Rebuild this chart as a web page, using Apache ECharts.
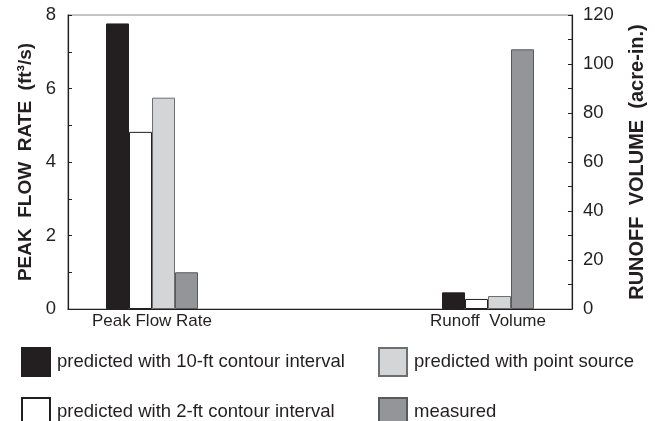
<!DOCTYPE html>
<html>
<head>
<meta charset="utf-8">
<script src="https://cdn.jsdelivr.net/npm/echarts@6/dist/echarts.min.js"></script>
<style>html,body{margin:0;padding:0;background:#fff}#c{width:655px;height:421px}</style>
</head>
<body>
<div id="c"></div>
<script>
var categories = ['Peak Flow Rate', '', 'Runoff  Volume'];
var seriesNames = ['predicted with 10-ft contour interval', 'predicted with 2-ft contour interval', 'predicted with point source', 'measured'];
// Peak flow rate (ft3/s), left axis
var peakFlow = [7.77, 4.82, 5.75, 1.0];
// Runoff volume (acre-in.), right axis
var runoffVolume = [6.8, 4.1, 5.3, 106];
var leftTicks = [0, 2, 4, 6, 8];
var rightTicks = [0, 20, 40, 60, 80, 100, 120];

var fills = ['#231f20', '#ffffff', '#d4d5d7', '#939598'];
var borders = ['#231f20', '#231f20', '#6d6e70', '#58595b'];
var txt = '#231f20';
var font = 'Liberation Sans, Arial, sans-serif';

var series = [];
seriesNames.forEach(function (n, i) {
  series.push({
    name: n, type: 'bar', xAxisIndex: 0, yAxisIndex: 0,
    data: [peakFlow[i], null, null],
    barWidth: 23, barGap: '0%',
    itemStyle: { color: fills[i], borderColor: borders[i], borderWidth: 1 },
    emphasis: { disabled: true }, animation: false
  });
});
seriesNames.forEach(function (n, i) {
  series.push({
    name: n, type: 'bar', xAxisIndex: 1, yAxisIndex: 1,
    data: [null, null, runoffVolume[i]],
    barWidth: 23, barGap: '0%',
    itemStyle: { color: fills[i], borderColor: borders[i], borderWidth: 1 },
    emphasis: { disabled: true }, animation: false
  });
});

function legendCol(names, left) {
  return { data: names, orient: 'vertical', left: left, top: 347, padding: 0, height: 90,
    itemWidth: 28, itemHeight: 28, itemGap: 20, icon: 'rect', selectedMode: false,
    textStyle: { fontSize: 18.5, color: txt, fontFamily: font, padding: [0, 0, 0, 2] } };
}

var chart = echarts.init(document.getElementById('c'), null, { renderer: 'canvas' });
chart.setOption({
  animation: false,
  grid: { left: 68, right: 82, top: 15, bottom: 112, show: true, borderColor: '#8a8a8a', borderWidth: 1.2, backgroundColor: 'transparent' },
  legend: [
    legendCol([seriesNames[0], seriesNames[1]], 21),
    legendCol([seriesNames[2], seriesNames[3]], 378)
  ],
  xAxis: [
    { type: 'category', data: categories, gridIndex: 0,
      axisLine: { lineStyle: { color: '#231f20', width: 1.2 } }, axisTick: { show: false },
      axisLabel: { color: txt, fontSize: 17, fontFamily: font, margin: 4, interval: 0 } },
    { type: 'category', data: categories, gridIndex: 0, show: false }
  ],
  yAxis: [
    { type: 'value', min: 0, max: 8, interval: 1, position: 'left',
      name: 'PEAK  FLOW  RATE  (ft³/s)', nameLocation: 'middle', nameGap: 31,
      nameTextStyle: { fontSize: 19, fontWeight: 'bold', color: txt, fontFamily: font },
      axisLine: { show: true, lineStyle: { color: '#231f20', width: 1.2 } },
      axisTick: { show: true, inside: true, length: 4, lineStyle: { color: '#231f20' } },
      axisLabel: { color: txt, fontSize: 18.5, fontFamily: font, margin: 12,
        formatter: function (v) { return leftTicks.indexOf(v) >= 0 ? String(v) : ''; } },
      splitLine: { show: false } },
    { type: 'value', min: 0, max: 120, interval: 10, position: 'right',
      name: 'RUNOFF  VOLUME  (acre-in.)', nameLocation: 'middle', nameGap: 55,
      nameTextStyle: { fontSize: 20, fontWeight: 'bold', color: txt, fontFamily: font },
      axisLine: { show: true, lineStyle: { color: '#231f20', width: 1.2 } },
      axisTick: { show: true, inside: true, length: 4, lineStyle: { color: '#231f20' } },
      axisLabel: { color: txt, fontSize: 18.5, fontFamily: font, margin: 11,
        formatter: function (v) { return rightTicks.indexOf(v) >= 0 ? String(v) : ''; } },
      splitLine: { show: false } }
  ],
  series: series
});
</script>
</body>
</html>
